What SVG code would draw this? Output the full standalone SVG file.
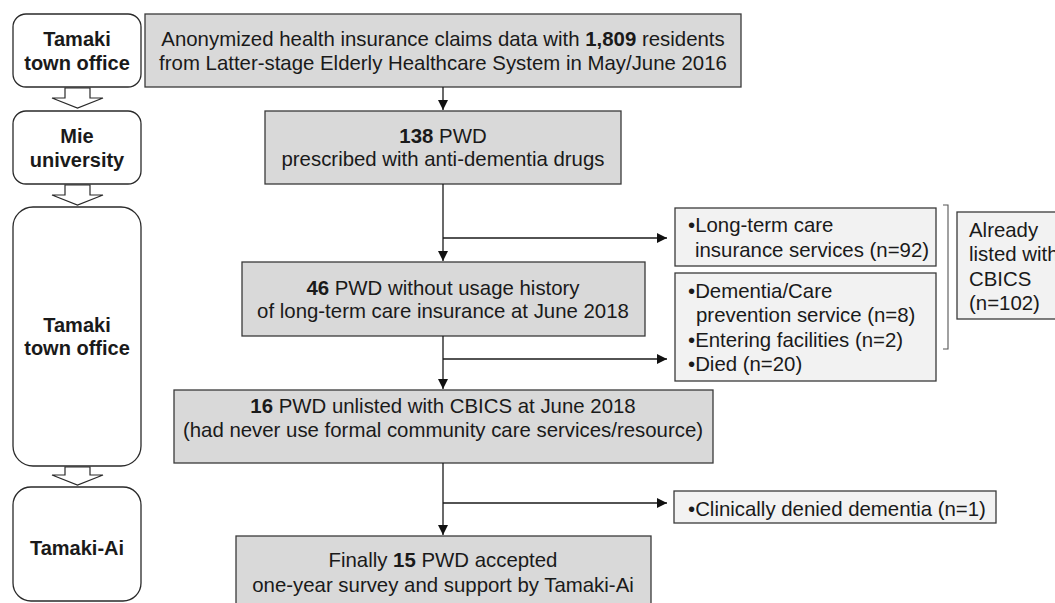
<svg xmlns="http://www.w3.org/2000/svg" width="1055" height="603" viewBox="0 0 1055 603">
<style>
text{font-family:"Liberation Sans",Arial,sans-serif;font-size:20.4px;fill:#1a1a1a}
.c{text-anchor:middle}
.b{font-weight:bold}
.lb{font-size:20px}
.lbox{fill:#ffffff;stroke:#2a2a2a;stroke-width:1.3}
.main{fill:#d9d9d9;stroke:#3a3a3a;stroke-width:1.3}
.side{fill:#f2f2f2;stroke:#3a3a3a;stroke-width:1.3}
.hollow{fill:#ffffff;stroke:#2a2a2a;stroke-width:1.2;stroke-linejoin:miter}
.ln{fill:none;stroke:#1a1a1a;stroke-width:1.3}
.br{fill:none;stroke:#555555;stroke-width:1.1}
</style>
<defs>
<marker id="ah" markerUnits="userSpaceOnUse" markerWidth="12" markerHeight="12" refX="10" refY="5" orient="auto">
<path d="M0,0 L10,5 L0,10 Z" fill="#111111"/>
</marker>
</defs>

<g id="left-tamaki-1">
<rect class="lbox" x="13" y="14" width="128" height="73" rx="13"/>
<text class="c b lb" x="77" y="46">Tamaki</text>
<text class="c b lb" x="77" y="70">town office</text>
</g>
<g id="left-mie">
<rect class="lbox" x="13" y="111" width="128" height="73" rx="13"/>
<text class="c b lb" x="77" y="143">Mie</text>
<text class="c b lb" x="77" y="167">university</text>
</g>
<g id="left-tamaki-2">
<rect class="lbox" x="13" y="207" width="128" height="259" rx="20"/>
<text class="c b lb" x="77" y="332">Tamaki</text>
<text class="c b lb" x="77" y="355">town office</text>
</g>
<g id="left-tamakiai">
<rect class="lbox" x="13" y="487" width="128" height="114" rx="18"/>
<text class="c b lb" x="77" y="555">Tamaki-Ai</text>
</g>

<g id="hollow-arrows">
<polygon class="hollow" points="65,88 90,88 90,98 103,98 77.5,108 52,98 65,98"/>
<polygon class="hollow" points="65,185 90,185 90,195 103,195 77.5,205 52,195 65,195"/>
<polygon class="hollow" points="65,467 90,467 90,475 103,475 77.5,485 52,475 65,475"/>
</g>

<g id="box-claims">
<rect class="main" x="145" y="14" width="596" height="73"/>
<text class="c" x="443" y="46">Anonymized health insurance claims data with <tspan class="b">1,809</tspan> residents</text>
<text class="c" x="443" y="70">from Latter-stage Elderly Healthcare System in May/June 2016</text>
</g>
<g id="box-138">
<rect class="main" x="265" y="111" width="356" height="73"/>
<text class="c" x="443" y="143"><tspan class="b">138</tspan> PWD</text>
<text class="c" x="443" y="166">prescribed with anti-dementia drugs</text>
</g>
<g id="box-46">
<rect class="main" x="242" y="262" width="403" height="74"/>
<text class="c" x="443" y="295"><tspan class="b">46</tspan> PWD without usage history</text>
<text class="c" x="443" y="318">of long-term care insurance at June 2018</text>
</g>
<g id="box-16">
<rect class="main" x="174" y="390" width="539" height="73"/>
<text class="c" x="443" y="413"><tspan class="b">16</tspan> PWD unlisted with CBICS at June 2018</text>
<text class="c" x="443" y="437">(had never use formal community care services/resource)</text>
</g>
<g id="box-15">
<rect class="main" x="236" y="536" width="415" height="75"/>
<text class="c" x="443" y="567">Finally <tspan class="b">15</tspan> PWD accepted</text>
<text class="c" x="443" y="592">one-year survey and support by Tamaki-Ai</text>
</g>

<g id="box-ltc">
<rect class="side" x="675" y="208" width="261" height="58"/>
<text x="688" y="232">•Long-term care</text>
<text x="695" y="257">insurance services (n=92)</text>
</g>
<g id="box-other">
<rect class="side" x="675" y="273" width="261" height="108"/>
<text x="688" y="298">•Dementia/Care</text>
<text x="696" y="322">prevention service (n=8)</text>
<text x="688" y="347">•Entering facilities (n=2)</text>
<text x="688" y="371">•Died (n=20)</text>
</g>
<g id="box-already">
<rect class="side" x="957" y="212" width="110" height="107"/>
<text x="969" y="237">Already</text>
<text x="969" y="261">listed with</text>
<text x="969" y="286">CBICS</text>
<text x="969" y="310">(n=102)</text>
</g>
<g id="box-denied">
<rect class="side" x="674" y="491" width="322" height="32"/>
<text x="688" y="516">•Clinically denied dementia (n=1)</text>
</g>

<g id="connectors">
<line class="ln" x1="443" y1="87" x2="443" y2="110" marker-end="url(#ah)"/>
<line class="ln" x1="443" y1="184" x2="443" y2="261" marker-end="url(#ah)"/>
<line class="ln" x1="443" y1="238" x2="667" y2="238" marker-end="url(#ah)"/>
<line class="ln" x1="443" y1="336" x2="443" y2="389" marker-end="url(#ah)"/>
<line class="ln" x1="443" y1="359" x2="667" y2="359" marker-end="url(#ah)"/>
<line class="ln" x1="443" y1="463" x2="443" y2="535" marker-end="url(#ah)"/>
<line class="ln" x1="443" y1="503" x2="667" y2="503" marker-end="url(#ah)"/>
<path class="br" d="M943,205 H948 V349 H943"/>
</g>
</svg>
